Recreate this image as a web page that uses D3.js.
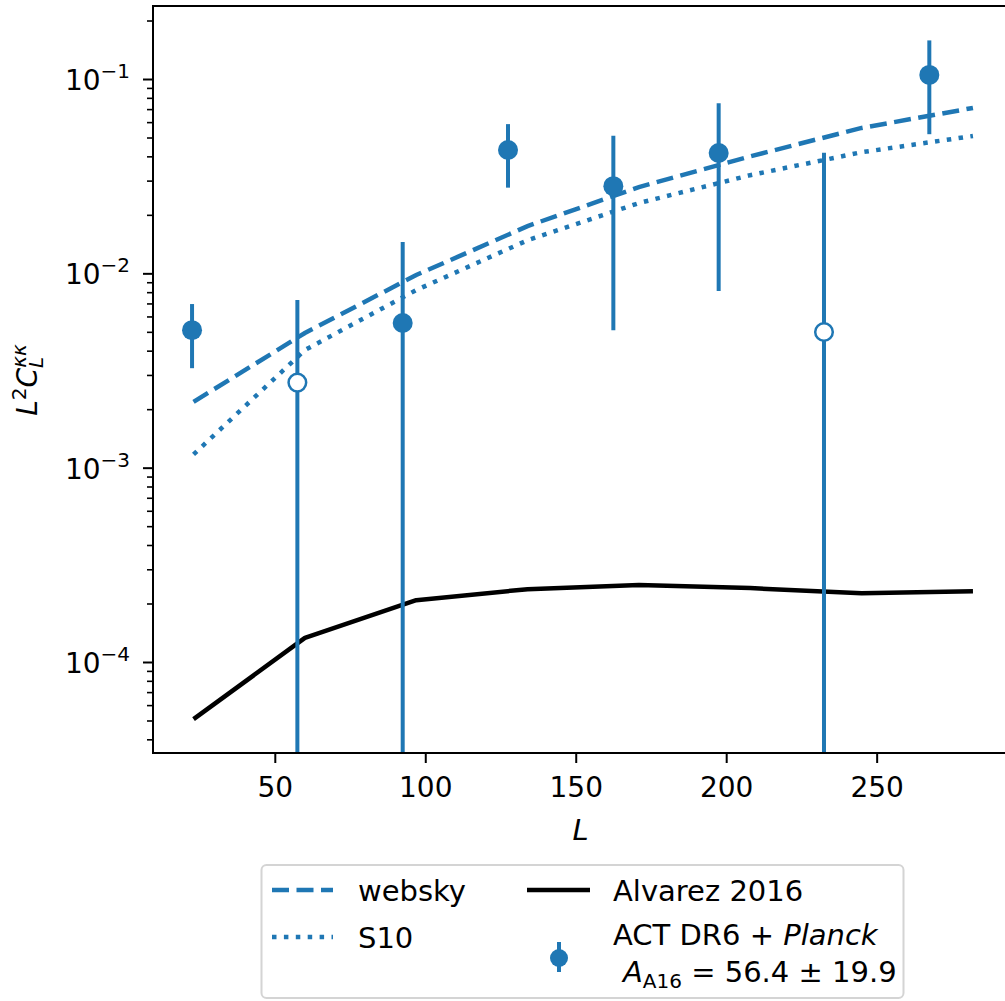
<!doctype html>
<html>
<head>
<meta charset="UTF-8">
<title>L2 CL kappa kappa</title>
<script src="https://d3js.org/d3.v7.min.js"></script>
<style>
    body { margin: 0; background: #fff; }
    svg text { font-family: "DejaVu Sans", sans-serif; fill: #000; }
</style>
</head>
<body>
<svg id="chart" width="1005" height="1001"></svg>
<script>
    // model curves, sampled at these multipoles
    var modelL = [23, 60, 97, 134, 171, 208, 245, 282];
    var websky = [2.18e-3, 4.93e-3, 9.8e-3, 1.75e-2, 2.78e-2, 4.0e-2, 5.6e-2, 7.1e-2];
    var s10 = [1.17e-3, 4.03e-3, 8.2e-3, 1.48e-2, 2.30e-2, 3.2e-2, 4.2e-2, 5.09e-2];
    var alvarez = [5.08e-5, 1.33e-4, 2.08e-4, 2.37e-4, 2.49e-4, 2.40e-4, 2.26e-4, 2.31e-4];

    // ACT DR6 + Planck bandpowers: |value|, 1 sigma, negative?
    var binL = [22.5, 57.5, 92.5, 127.5, 162.5, 197.5, 232.5, 267.5];
    var binVal = [5.1e-3, 2.74e-3, 5.55e-3, 4.31e-2, 2.81e-2, 4.16e-2, 4.99e-3, 0.105];
    var binErr = [1.85e-3, 4.56e-3, 8.95e-3, 1.55e-2, 2.3e-2, 3.35e-2, 3.68e-2, 5.3e-2];
    var binNeg = [false, true, false, false, false, false, true, false];

    var xTicks = [50, 100, 150, 200, 250];
    var yTicks = [1e-4, 1e-3, 1e-2, 1e-1];

    var svg = d3.select("#chart");
    var pLeft = 153, pTop = 6, pBottom = 753, pRight = 1012;
    var blue = "#1f77b4";

    var x = d3.scaleLinear().domain([9.525, 294.975]).range([pLeft, pRight]);
    var y = d3.scaleLog().domain([Math.pow(10, -4.4683), Math.pow(10, -0.6243)]).range([pBottom, pTop]);

    svg.append("defs").append("clipPath").attr("id", "plotclip")
        .append("rect")
        .attr("x", pLeft).attr("y", pTop)
        .attr("width", pRight - pLeft).attr("height", pBottom - pTop);

    var plot = svg.append("g").attr("clip-path", "url(#plotclip)");

    var line = d3.line()
        .x(function (d) { return x(d[0]); })
        .y(function (d) { return y(d[1]); });

    function pairs(vals) {
        return modelL.map(function (l, i) { return [l, vals[i]]; });
    }

    // websky (dashed)
    plot.append("path")
        .attr("d", line(pairs(websky)))
        .attr("fill", "none").attr("stroke", blue)
        .attr("stroke-width", 4.5).attr("stroke-dasharray", "17,7.5");
    // S10 (dotted)
    plot.append("path")
        .attr("d", line(pairs(s10)))
        .attr("fill", "none").attr("stroke", blue)
        .attr("stroke-width", 4.5).attr("stroke-dasharray", "4.5,7.4");
    // Alvarez 2016
    plot.append("path")
        .attr("d", line(pairs(alvarez)))
        .attr("fill", "none").attr("stroke", "#000")
        .attr("stroke-width", 4.5).attr("stroke-linejoin", "round");

    // error bars
    binL.forEach(function (l, i) {
        var lo = binVal[i] - binErr[i];
        var hi = binVal[i] + binErr[i];
        plot.append("line")
            .attr("x1", x(l)).attr("x2", x(l))
            .attr("y1", lo > 0 ? y(lo) : pBottom + 10)
            .attr("y2", y(hi))
            .attr("stroke", blue).attr("stroke-width", 4);
    });
    // markers
    binL.forEach(function (l, i) {
        if (binNeg[i]) {
            plot.append("circle")
                .attr("cx", x(l)).attr("cy", y(binVal[i])).attr("r", 8.8)
                .attr("fill", "#fff").attr("stroke", blue).attr("stroke-width", 2.5);
        } else {
            plot.append("circle")
                .attr("cx", x(l)).attr("cy", y(binVal[i])).attr("r", 10)
                .attr("fill", blue);
        }
    });

    // spines
    svg.append("rect")
        .attr("x", pLeft).attr("y", pTop)
        .attr("width", pRight - pLeft).attr("height", pBottom - pTop)
        .attr("fill", "none").attr("stroke", "#000").attr("stroke-width", 2);

    // x axis
    var xAxis = svg.append("g")
        .attr("transform", "translate(0," + pBottom + ")")
        .call(d3.axisBottom(x).tickValues(xTicks).tickSize(10).tickPadding(14).tickFormat(d3.format("d")));
    xAxis.select(".domain").remove();
    xAxis.selectAll("line").attr("stroke-width", 2);
    xAxis.selectAll("text").attr("font-size", 28).attr("font-family", "DejaVu Sans");

    // y axis, minor ticks
    var minor = [];
    for (var k = -5; k <= 0; k++) {
        for (var m = 2; m <= 9; m++) {
            var v = m * Math.pow(10, k);
            if (v > y.domain()[0] && v < y.domain()[1]) minor.push(v);
        }
    }
    var yMinor = svg.append("g")
        .attr("transform", "translate(" + pLeft + ",0)")
        .call(d3.axisLeft(y).tickValues(minor).tickSize(6).tickFormat(""));
    yMinor.select(".domain").remove();
    yMinor.selectAll("line").attr("stroke-width", 1.6);

    var yMajor = svg.append("g")
        .attr("transform", "translate(" + pLeft + ",0)")
        .call(d3.axisLeft(y).tickValues(yTicks).tickSize(10).tickFormat(""));
    yMajor.select(".domain").remove();
    yMajor.selectAll("line").attr("stroke-width", 2);

    // y tick labels as 10^k
    yTicks.forEach(function (t) {
        var e = Math.round(Math.log10(t));
        var txt = svg.append("text")
            .attr("x", 130).attr("y", y(t) + 11)
            .attr("text-anchor", "end");
        txt.append("tspan").attr("font-size", 28).text("10");
        txt.append("tspan").attr("font-size", 20).attr("dy", -12).text("\u2212" + Math.abs(e));
    });

    // axis labels
    svg.append("text")
        .attr("x", (pLeft + pRight) / 2 - 2).attr("y", 840)
        .attr("text-anchor", "middle")
        .attr("font-size", 29).attr("font-style", "italic")
        .text("L");

    var yl = svg.append("text")
        .attr("transform", "translate(37,380) rotate(-90)")
        .attr("text-anchor", "middle")
        .attr("font-size", 28);
    yl.append("tspan").attr("font-style", "italic").text("L");
    yl.append("tspan").attr("font-size", 20).attr("dy", -11).text("2");
    yl.append("tspan").attr("font-style", "italic").attr("dy", 11).text("C");
    yl.append("tspan").attr("font-style", "italic").attr("font-size", 20).attr("dy", 6).text("L");
    yl.append("tspan").attr("font-style", "italic").attr("font-size", 20).attr("dx", -11).attr("dy", -17).text("\u03BA\u03BA");

    // legend
    var lg = svg.append("g");
    lg.append("rect")
        .attr("x", 261.5).attr("y", 865).attr("width", 642).attr("height", 133).attr("rx", 5)
        .attr("fill", "#fff").attr("stroke", "#d4d4d4").attr("stroke-width", 2);

    lg.append("line").attr("x1", 272).attr("x2", 333).attr("y1", 890).attr("y2", 890)
        .attr("stroke", blue).attr("stroke-width", 4.5).attr("stroke-dasharray", "17,7.5");
    lg.append("text").attr("x", 358).attr("y", 901).attr("font-size", 29).text("websky");

    lg.append("line").attr("x1", 272).attr("x2", 333).attr("y1", 937).attr("y2", 937)
        .attr("stroke", blue).attr("stroke-width", 4.5).attr("stroke-dasharray", "4.5,7.4");
    lg.append("text").attr("x", 358).attr("y", 947.5).attr("font-size", 29).text("S10");

    lg.append("line").attr("x1", 527).attr("x2", 590).attr("y1", 890).attr("y2", 890)
        .attr("stroke", "#000").attr("stroke-width", 4.5);
    lg.append("text").attr("x", 613).attr("y", 901).attr("font-size", 29).text("Alvarez 2016");

    lg.append("line").attr("x1", 559).attr("x2", 559).attr("y1", 942).attr("y2", 972)
        .attr("stroke", blue).attr("stroke-width", 4);
    lg.append("circle").attr("cx", 559).attr("cy", 958).attr("r", 9).attr("fill", blue);

    var l1 = lg.append("text").attr("x", 613).attr("y", 945).attr("font-size", 29);
    l1.append("tspan").text("ACT DR6 + ");
    l1.append("tspan").attr("font-style", "italic").text("Planck");

    var l2 = lg.append("text").attr("x", 623).attr("y", 982).attr("font-size", 29);
    l2.append("tspan").attr("font-style", "italic").text("A");
    l2.append("tspan").attr("font-size", 20).attr("dy", 6).text("A16");
    l2.append("tspan").attr("dy", -6).text(" = 56.4 \u00B1 19.9");
</script>
</body>
</html>
